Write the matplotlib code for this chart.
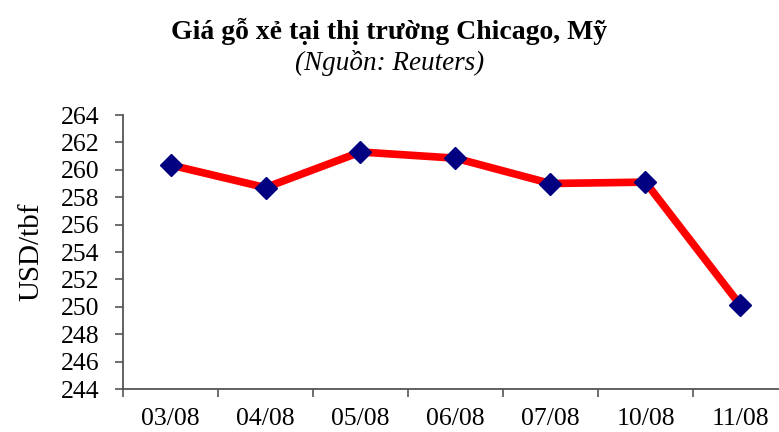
"""Sawn lumber price at the Chicago market, line chart in the old Excel look."""
import matplotlib
matplotlib.use("Agg")
import matplotlib.pyplot as plt
import numpy as np

DATES = ["03/08", "04/08", "05/08", "06/08", "07/08", "10/08", "11/08"]
PRICES = [260.35, 258.7, 261.3, 260.85, 259.0, 259.1, 250.1]
Y_TICKS = list(range(244, 265, 2))

TITLE = "Giá gỗ xẻ tại thị trường Chicago, Mỹ"
SUBTITLE = "(Nguồn: Reuters)"
Y_LABEL = "USD/tbf"

plt.rcParams["font.family"] = ["Liberation Serif", "DejaVu Serif"]

fig = plt.figure(figsize=(7.79, 4.32), dpi=100)
ax = fig.add_axes([123 / 779, 1 - 389 / 432, 665 / 779, 274 / 432])

x = np.arange(len(DATES))
ax.plot(x, PRICES, color="#FF0000", lw=5.5, solid_capstyle="round", zorder=2)
ax.plot(x, PRICES, ls="none", marker="D", ms=11, color="#000080", zorder=3)

ax.set_xlim(-0.5, len(DATES) - 0.5)
ax.set_ylim(244, 264)
ax.set_yticks(Y_TICKS)
ax.set_yticklabels([str(v) for v in Y_TICKS], fontsize=18.5)
ax.set_xticks(x)
ax.set_xticklabels(DATES, fontsize=18.5)
ax.set_xticks(np.arange(-0.5, len(DATES), 1), minor=True)

for side in ("top", "right"):
    ax.spines[side].set_visible(False)
for side in ("left", "bottom"):
    ax.spines[side].set_color("#555555")
    ax.spines[side].set_linewidth(1.3)

ax.tick_params(axis="y", direction="out", length=6, width=1.2, color="#555555", pad=11)
ax.tick_params(axis="x", which="major", length=0, pad=14)
ax.tick_params(axis="x", which="minor", direction="out", length=6, width=1.2, color="#555555")

ax.set_ylabel(Y_LABEL, fontsize=21, labelpad=12)

fig.text(0.5, 1 - 31 / 432, TITLE, ha="center", va="center", fontsize=20, fontweight="bold")
fig.text(0.5, 1 - 63 / 432, SUBTITLE, ha="center", va="center", fontsize=19.5, style="italic")

fig.savefig("out.png", dpi=100)
